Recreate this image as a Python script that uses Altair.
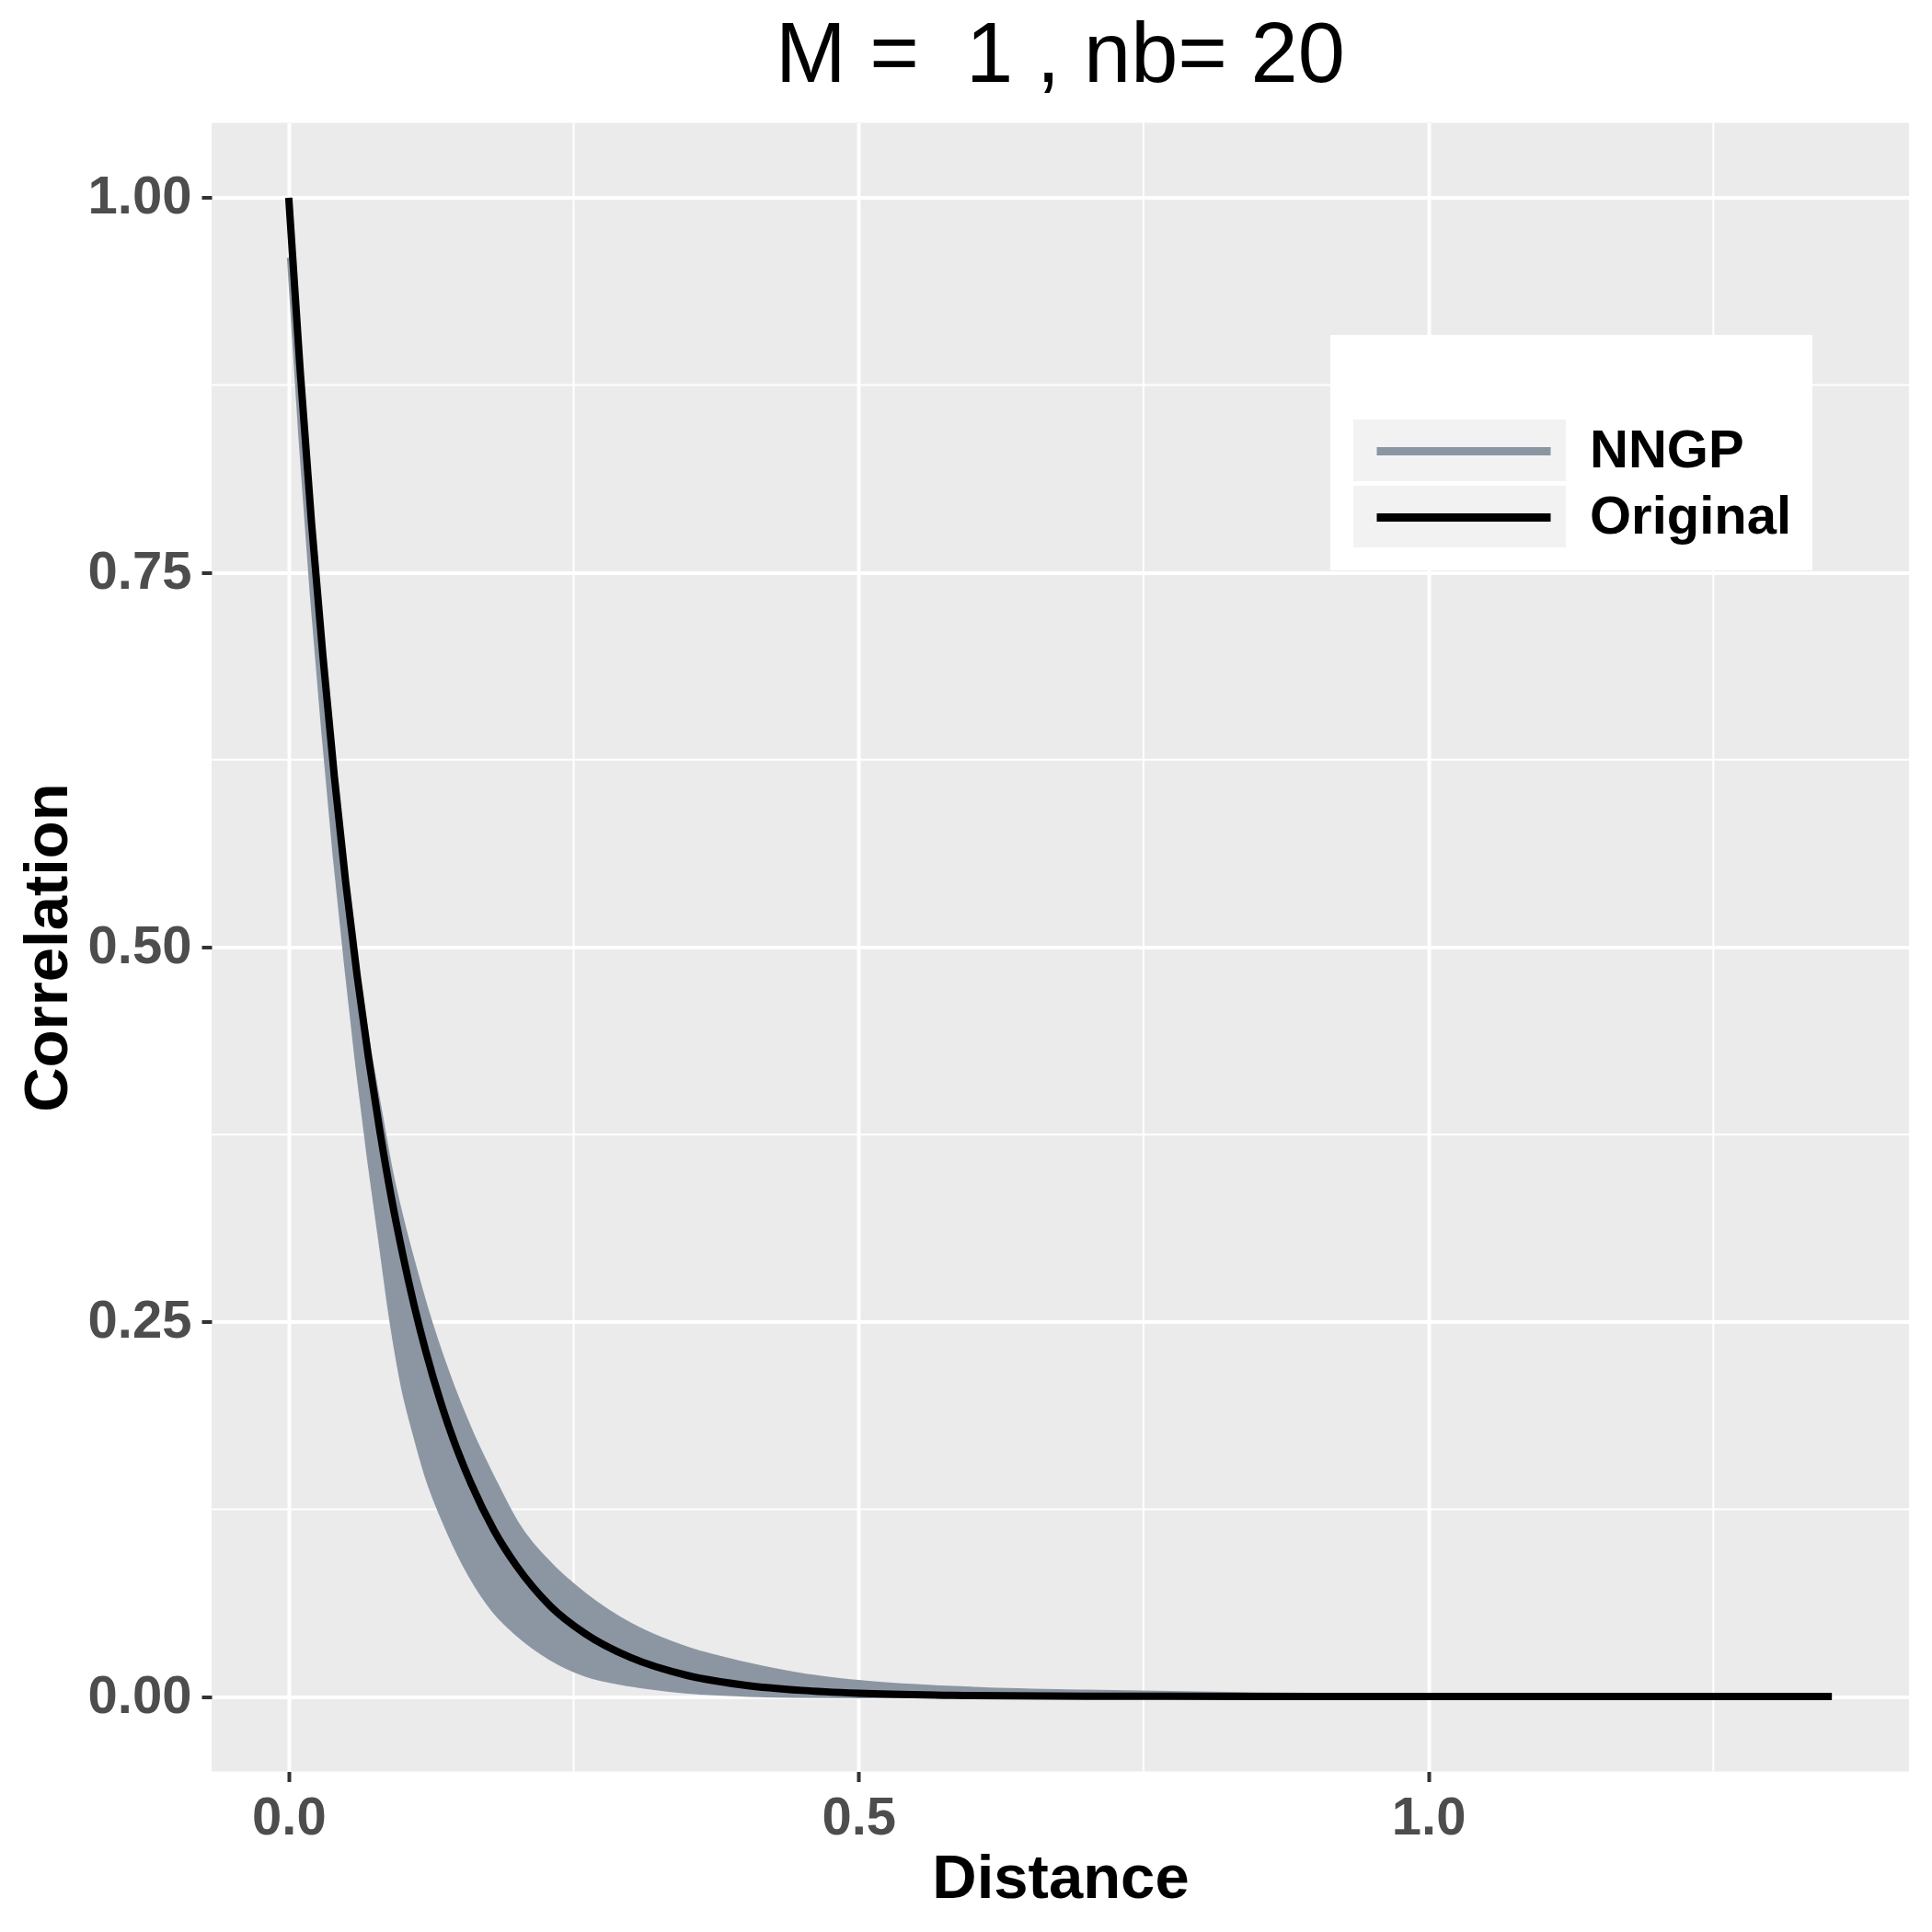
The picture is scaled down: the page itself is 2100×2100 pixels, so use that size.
import altair as alt
import pandas as pd

# ---- data ----
grid_d = [0.0, 0.01, 0.02, 0.03, 0.04, 0.05, 0.06, 0.07, 0.08, 0.09, 0.10, 0.11, 0.12, 0.14,
          0.16, 0.18, 0.20, 0.23, 0.26, 0.30, 0.35, 0.40, 0.45, 0.50, 0.60, 0.70, 0.85, 1.0,
          1.2, 1.354]

# NNGP cloud: upper and lower edge of the grey band
band_upper = [1.0, 0.887, 0.787, 0.698, 0.619, 0.548, 0.487, 0.435, 0.392, 0.35, 0.317, 0.288,
              0.261, 0.215, 0.177, 0.145, 0.116, 0.088, 0.068, 0.048, 0.032, 0.022, 0.0145,
              0.0098, 0.0053, 0.0034, 0.0015, 0.0006, 0.0002, 0.0]
band_lower = [0.96, 0.841, 0.736, 0.645, 0.562, 0.489, 0.421, 0.36, 0.305, 0.25, 0.2065, 0.176,
              0.149, 0.110, 0.0795, 0.057, 0.0418, 0.0252, 0.0145, 0.0078, 0.0031, 0.0011,
              0.0003, 0.0, 0.0, 0.0, 0.0, 0.0, 0.0, 0.0]

# Original correlation curve
orig_c = [1.0, 0.885, 0.783, 0.694, 0.614, 0.543, 0.481, 0.426, 0.377, 0.333, 0.295, 0.261,
          0.231, 0.181, 0.142, 0.111, 0.087, 0.060, 0.042, 0.026, 0.014, 0.0076, 0.0041,
          0.0022, 0.0007, 0.0002, 0.00003, 0.0, 0.0, 0.0]

series_names = ["NNGP", "Original"]
series_colors = ["#8C96A3", "#000000"]
key_names = ["NNGP key", "Original key"]

x_major = [0.0, 0.5, 1.0]
x_minor = [0.25, 0.75, 1.25]
y_major = [0.0, 0.25, 0.5, 0.75, 1.0]
y_minor = [0.125, 0.375, 0.625, 0.875]

# ---- tables ----
band_df = pd.DataFrame({"d": grid_d, "upper": band_upper, "lower": band_lower})
edge_df = pd.concat([
    pd.DataFrame({"d": grid_d, "c": band_upper, "edge": "upper", "series": "NNGP"}),
    pd.DataFrame({"d": grid_d, "c": band_lower, "edge": "lower", "series": "NNGP"}),
])
orig_df = pd.DataFrame({"d": grid_d, "c": orig_c, "series": "Original"})
key_df = pd.concat([
    pd.DataFrame({"d": grid_d, "c": band_upper, "key": key_names[0]}),
    pd.DataFrame({"d": grid_d, "c": orig_c, "key": key_names[1]}),
])
xminor_df = pd.DataFrame({"v": x_minor})
yminor_df = pd.DataFrame({"v": y_minor})

FONT = "Liberation Sans"
xscale = alt.Scale(domain=[-0.0677, 1.4217], nice=False, zero=False)
yscale = alt.Scale(domain=[-0.05, 1.05], nice=False, zero=False)
cscale = alt.Scale(domain=series_names, range=series_colors)
KEY_PATH = "M-1,-0.29H1V0.29H-1Z"
sscale = alt.Scale(domain=key_names, range=[KEY_PATH, KEY_PATH])

xaxis = alt.Axis(values=x_major, format=".1f", title="Distance", labelFontSize=58,
                 labelFont=FONT, labelFontWeight="bold", labelColor="#4D4D4D",
                 tickColor="#333333", tickSize=11, tickWidth=4, labelPadding=11,
                 domain=False, grid=True, gridColor="white", gridWidth=4,
                 titleFont=FONT, titleFontSize=67, titleFontWeight="bold", titleColor="black",
                 titleY=137, titleBaseline="alphabetic", labelFlush=False)
yaxis = alt.Axis(values=y_major, format=".2f", title="Correlation", labelFontSize=58,
                 labelFont=FONT, labelFontWeight="bold", labelColor="#4D4D4D",
                 tickColor="#333333", tickSize=11, tickWidth=4, labelPadding=11,
                 domain=False, grid=True, gridColor="white", gridWidth=4,
                 titleFont=FONT, titleFontSize=67, titleFontWeight="bold", titleColor="black",
                 titleX=-158, titleBaseline="alphabetic", labelFlush=False)

xminor_rules = alt.Chart(xminor_df).mark_rule(color="white", strokeWidth=2).encode(
    x=alt.X("v:Q", scale=xscale, axis=xaxis)
)
yminor_rules = alt.Chart(yminor_df).mark_rule(color="white", strokeWidth=2).encode(
    y=alt.Y("v:Q", scale=yscale, axis=yaxis)
)

band = alt.Chart(band_df).mark_area(color="#8C96A3", interpolate="monotone").encode(
    x=alt.X("d:Q", scale=xscale, axis=xaxis),
    y=alt.Y("upper:Q", scale=yscale, axis=yaxis),
    y2="lower:Q",
)

# key backgrounds + white legend box (drawn underneath)
key_legend = alt.Legend(orient="none", legendX=1216, legendY=230.5, title=" ",
                        titleFontSize=56, titlePadding=11, fillColor="white", padding=25,
                        symbolSize=53361, symbolStrokeWidth=0, symbolOpacity=1,
                        symbolFillColor="#F2F2F2", symbolOffset=0, labelOffset=243,
                        labelExpr="''",
                        labelFont=FONT, labelFontSize=61, labelFontWeight="bold",
                        labelLimit=500, rowPadding=5, clipHeight=67, zindex=0)

# line keys and labels (drawn on top)
legend = alt.Legend(orient="none", legendX=1216, legendY=230.5, title=" ",
                    titleFontSize=60, titlePadding=11, padding=25,
                    symbolType="stroke", symbolSize=35721, symbolStrokeWidth=9,
                    symbolOffset=21, labelOffset=38, labelFont=FONT, labelFontSize=58,
                    labelFontWeight="bold", labelColor="black", labelLimit=500,
                    rowPadding=11, clipHeight=61, zindex=1)

keys = alt.Chart(key_df).mark_point(filled=True, color="#F2F2F2", opacity=0).encode(
    x=alt.X("d:Q", scale=xscale, axis=xaxis),
    y=alt.Y("c:Q", scale=yscale, axis=yaxis),
    shape=alt.Shape("key:N", scale=sscale, legend=key_legend),
)

edges = alt.Chart(edge_df).mark_line(strokeWidth=4, interpolate="monotone").encode(
    x=alt.X("d:Q", scale=xscale, axis=xaxis),
    y=alt.Y("c:Q", scale=yscale, axis=yaxis),
    color=alt.Color("series:N", scale=cscale, legend=legend),
    detail="edge:N",
)

original = alt.Chart(orig_df).mark_line(strokeWidth=8, interpolate="monotone").encode(
    x=alt.X("d:Q", scale=xscale, axis=xaxis),
    y=alt.Y("c:Q", scale=yscale, axis=yaxis),
    color=alt.Color("series:N", scale=cscale, legend=legend),
)

chart = alt.layer(xminor_rules, yminor_rules, band, keys, edges, original).properties(
    width=1845,
    height=1792,
    background="white",
    title=alt.TitleParams(text="M =\u00a0 1 , nb= 20", fontSize=92, font=FONT,
                          fontWeight="normal", color="black", anchor="middle", offset=25),
    autosize=alt.AutoSizeParams(type="none"),
    padding={"left": 222, "top": 125.5, "right": 17, "bottom": 159},
).configure_view(fill="#EBEBEB", strokeWidth=0)

chart.save("out.html", embed_options={"renderer": "svg", "actions": False})
